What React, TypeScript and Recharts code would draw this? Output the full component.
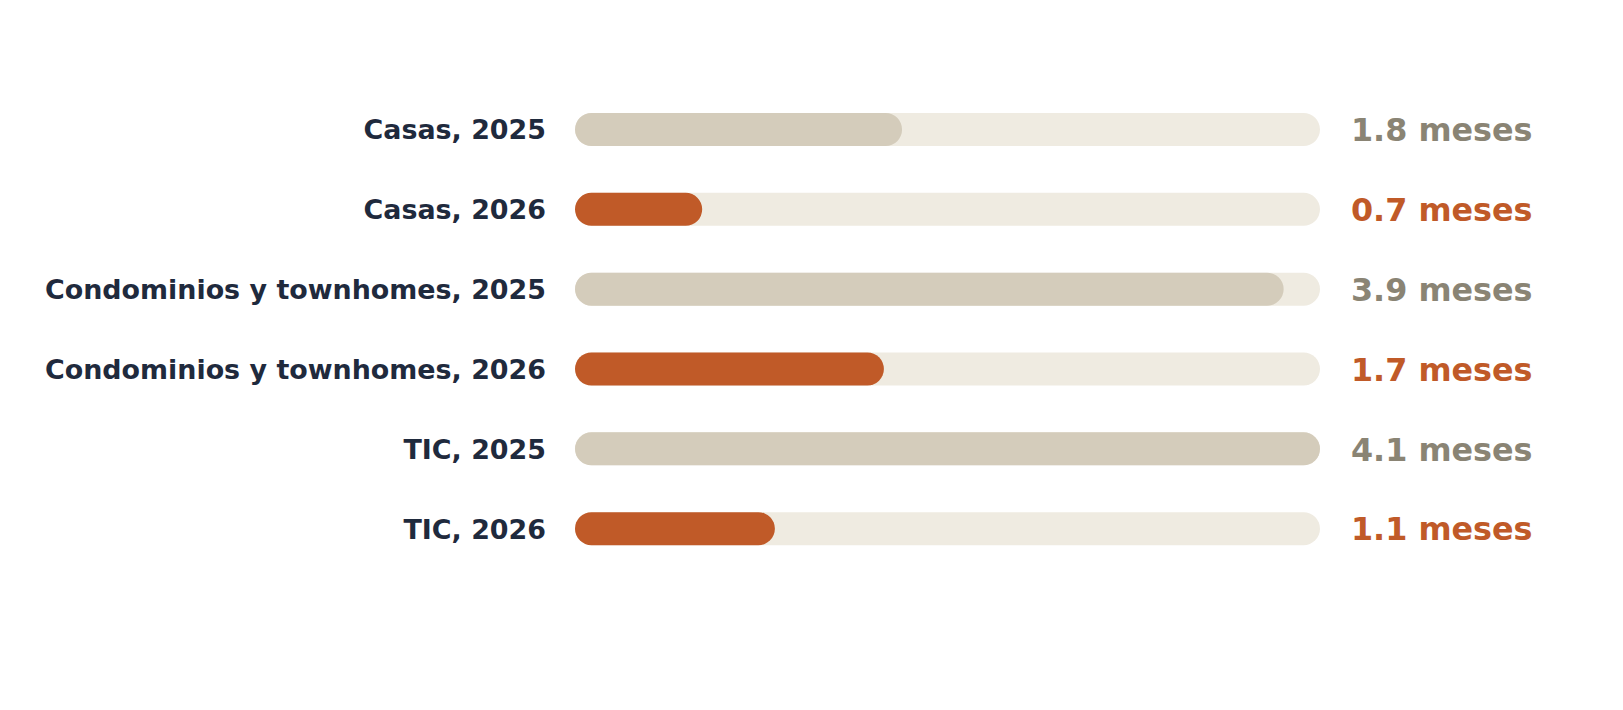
import React from "react";
import { BarChart, Bar, XAxis, YAxis, Cell } from "recharts";

// Months of inventory by property type and year
const categories = [
  "Casas, 2025",
  "Casas, 2026",
  "Condominios y townhomes, 2025",
  "Condominios y townhomes, 2026",
  "TIC, 2025",
  "TIC, 2026",
];
const months = [1.8, 0.7, 3.9, 1.7, 4.1, 1.1];
const years = [2025, 2026, 2025, 2026, 2025, 2026];
const unit = "meses";

const FONT = "'DejaVu Sans', sans-serif";
const NAVY = "#1f2a3d";
const TRACK = "#efebe1";
const BAR_COLORS: Record<number, string> = { 2025: "#d4ccbb", 2026: "#c05a28" };
const VALUE_COLORS: Record<number, string> = { 2025: "#8a8474", 2026: "#c05a28" };

const data = categories.map((name, i) => ({
  name,
  value: months[i],
  year: years[i],
  label: `${months[i].toFixed(1)} ${unit}`,
}));

const ValueTick = (props: any) => {
  const { x, y, payload, index } = props;
  const row = data[index] ?? data.find((d) => d.label === payload.value);
  return (
    <text
      x={x}
      y={y}
      dy="0.355em"
      textAnchor="start"
      fontFamily={FONT}
      fontWeight="bold"
      fontSize={31.8}
      fill={row ? VALUE_COLORS[row.year] : "#8a8474"}
    >
      {payload.value}
    </text>
  );
};

export default function App() {
  return (
    <div style={{ width: 1607, height: 694, background: "#ffffff" }}>
      <BarChart
        width={1607}
        height={694}
        data={data}
        layout="vertical"
        margin={{ top: 82, right: 0, bottom: 133, left: 0 }}
        barCategoryGap={0}
      >
        <XAxis type="number" domain={[0, 4.1]} hide />
        <YAxis
          yAxisId="left"
          type="category"
          dataKey="name"
          width={567}
          axisLine={false}
          tickLine={false}
          tickSize={0}
          tickMargin={29}
          interval={0}
          tick={{ fill: NAVY, fontFamily: FONT, fontWeight: "bold", fontSize: 26.9 }}
        />
        <YAxis
          yAxisId="right"
          orientation="right"
          type="category"
          dataKey="label"
          width={295}
          axisLine={false}
          tickLine={false}
          tickSize={0}
          tickMargin={31}
          interval={0}
          tick={<ValueTick />}
        />
        <Bar
          yAxisId="left"
          dataKey="value"
          barSize={33}
          radius={16.5}
          background={{ fill: TRACK, radius: 16.5 } as any}
          isAnimationActive={false}
        >
          {data.map((d, i) => (
            <Cell key={i} fill={BAR_COLORS[d.year]} />
          ))}
        </Bar>
      </BarChart>
    </div>
  );
}
